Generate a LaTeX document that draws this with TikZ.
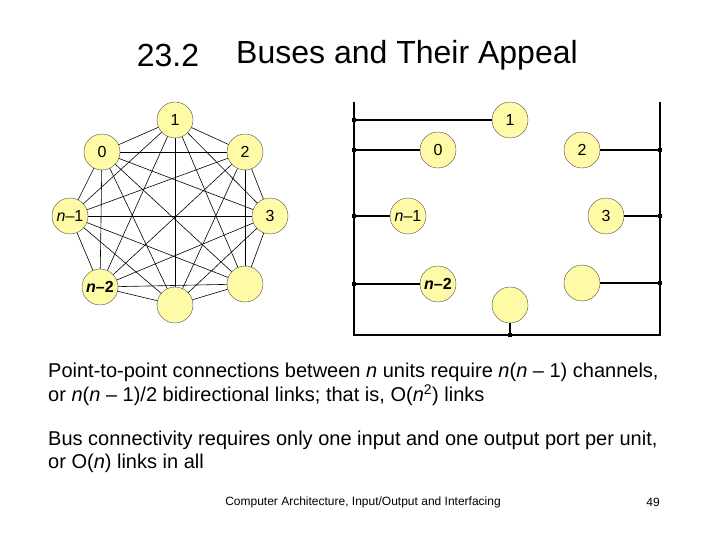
\documentclass[tikz,border=0pt]{standalone}
\usepackage{fontspec}
\setmainfont{Liberation Sans}
\begin{document}
\begin{tikzpicture}[x=1pt,y=-1pt,
  unit/.style={circle,draw=black!70,fill=yellow!35,minimum size=36pt,inner sep=0pt,font=\fontsize{16}{16}\selectfont},
  link/.style={draw=black,line width=0.6pt},
  bus/.style={draw=black,line width=2.2pt},
  tap/.style={fill=black,minimum size=4pt,inner sep=0pt,rectangle},
  body/.style={anchor=west,font=\fontsize{20}{22}\selectfont,inner sep=0pt}]
\useasboundingbox (0,0) rectangle (720,540);
\node[font=\fontsize{32}{34}\selectfont] (t1) at (168,55) {23.2};
\node[font=\fontsize{32}{34}\selectfont] (t2) at (407,55) {Buses and Their Appeal};
% left complete graph
\begin{scope}
\coordinate (p1) at (175,120); \coordinate (p2) at (245,152);
\coordinate (p3) at (270,216); \coordinate (p4) at (245,284);
\coordinate (p5) at (175,305); \coordinate (p6) at (100,287);
\coordinate (p7) at (70,216); \coordinate (p8) at (102,152);
\foreach \i in {1,...,8}{\foreach \j in {1,...,8}{\ifnum\i<\j \draw[link] (p\i)--(p\j);\fi}}
\node[unit] (a1) at (p1) {1};
\node[unit] (a2) at (p2) {2};
\node[unit] (a3) at (p3) {3};
\node[unit] (a4) at (p4) {};
\node[unit] (a5) at (p5) {};
\node[unit] (a6) at (p6) {\textbf{\textit{n}--2}};
\node[unit] (a7) at (p7) {\textit{n}--1};
\node[unit] (a8) at (p8) {0};
\end{scope}
% right bus
\coordinate (lt) at (354,102); \coordinate (lb) at (354,335);
\coordinate (rt) at (660,102); \coordinate (rb) at (660,335);
\draw[bus] (lt)--(lb)--(rb)--(rt);
\node[unit] (b1) at (510,120) {1};
\node[unit] (b0) at (438,150) {0};
\node[unit] (b2) at (582,150) {2};
\node[unit] (b7) at (408,216) {\textit{n}--1};
\node[unit] (b3) at (606,216) {3};
\node[unit] (b6) at (438,284) {\textbf{\textit{n}--2}};
\node[unit] (b4) at (582,283) {};
\node[unit] (b5) at (510,305) {};
\node[tap] (k1) at (354,120) {}; \draw[link,line width=1.2pt] (k1)--(b1);
\node[tap] (k0) at (354,150) {}; \draw[link,line width=1.2pt] (k0)--(b0);
\node[tap] (k7) at (354,216) {}; \draw[link,line width=1.2pt] (k7)--(b7);
\node[tap] (k6) at (354,284) {}; \draw[link,line width=1.2pt] (k6)--(b6);
\node[tap] (k2) at (660,150) {}; \draw[link,line width=1.2pt] (k2)--(b2);
\node[tap] (k3) at (660,216) {}; \draw[link,line width=1.2pt] (k3)--(b3);
\node[tap] (k4) at (660,283) {}; \draw[link,line width=1.2pt] (k4)--(b4);
\node[tap] (k5) at (510,335) {}; \draw[link,line width=1.2pt] (k5)--(b5);
% text
\node[body] (l1) at (48,372) {Point-to-point connections between \textit{n} units require \textit{n}(\textit{n} -- 1) channels,};
\node[body] (l2) at (48,395) {or \textit{n}(\textit{n} -- 1)/2 bidirectional links; that is, O(\textit{n}\textsuperscript{2}) links};
\node[body] (l3) at (48,440) {Bus connectivity requires only one input and one output port per unit,};
\node[body] (l4) at (48,463) {or O(\textit{n}) links in all};
\node[font=\fontsize{12}{14}\selectfont] (f1) at (363,502) {Computer Architecture, Input/Output and Interfacing};
\node[font=\fontsize{12}{14}\selectfont] (f2) at (653,502) {49};
\end{tikzpicture}
\end{document}
